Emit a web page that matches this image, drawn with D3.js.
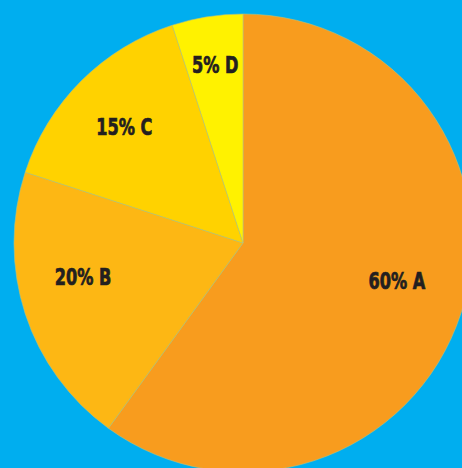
<!DOCTYPE html>
<html>
<head>
<meta charset="utf-8">
<script src="https://cdn.jsdelivr.net/npm/d3@7"></script>
<style>
  html, body { margin: 0; padding: 0; background: #00AEEF; }
  svg { display: block; }
</style>
</head>
<body>
<svg id="chart" width="462" height="468"></svg>
<script>
// Share of each category, in drawing order (clockwise from 12 o'clock)
const categories = ["A", "B", "C", "D"];
const shares = [60, 20, 15, 5];
const sliceColors = ["#F89C1E", "#FDB714", "#FFD200", "#FFF200"];

// Hand-tuned nudges (px) applied to each label after centroid placement
const labelNudge = [[-3, -13], [-3, -17], [-2, 0], [-2, -15]];

const svg = d3.select("#chart");
const cx = 243, cy = 243, radius = 229;

const g = svg.append("g").attr("transform", `translate(${cx},${cy})`);

const data = categories.map((c, i) => ({ category: c, value: shares[i], color: sliceColors[i] }));

const pie = d3.pie().sort(null).value(d => d.value);
const arc = d3.arc().innerRadius(0).outerRadius(radius);
const labelArc = d3.arc().innerRadius(165).outerRadius(165);

const arcs = pie(data);

g.selectAll("path.slice")
  .data(arcs)
  .join("path")
  .attr("class", "slice")
  .attr("d", arc)
  .attr("fill", d => d.data.color)
  .attr("stroke", "#b9c27a")
  .attr("stroke-width", 0.6);

g.selectAll("text.label")
  .data(arcs)
  .join("text")
  .attr("class", "label")
  .attr("transform", (d, i) => {
    const [x, y] = labelArc.centroid(d);
    return `translate(${x + labelNudge[i][0]},${y + labelNudge[i][1]}) scale(0.78,1)`;
  })
  .attr("text-anchor", "middle")
  .attr("dy", "0.36em")
  .style("font-family", "'DejaVu Sans Condensed', 'DejaVu Sans', sans-serif")
  .style("font-weight", "bold")
  .style("font-size", "23px")
  .attr("fill", "#231F20")
  .attr("stroke", "#231F20")
  .attr("stroke-width", 0.7)
  .text(d => `${d.data.value}% ${d.data.category}`);
</script>
</body>
</html>
